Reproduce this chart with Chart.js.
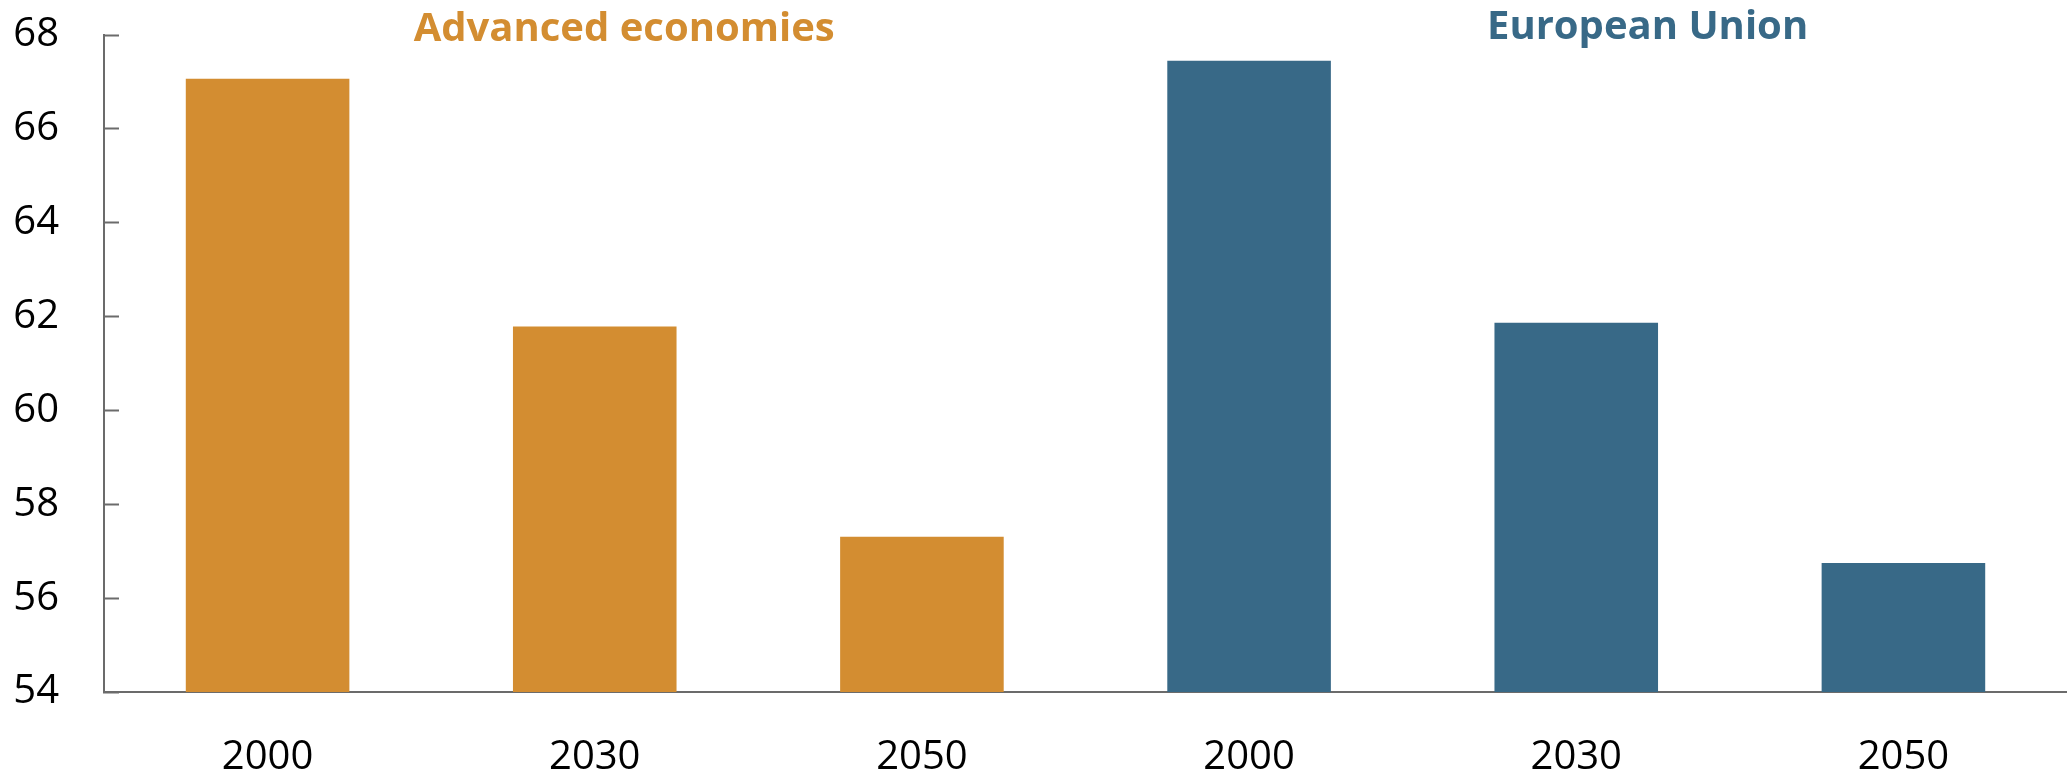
<!DOCTYPE html>
<html>
<head>
<meta charset="utf-8">
<script src="https://cdn.jsdelivr.net/npm/chart.js@4"></script>
<style>
  html, body { margin: 0; padding: 0; background: #ffffff; }
  #wrap { width: 2067px; height: 775px; position: relative; }
</style>
</head>
<body>
<div id="wrap"><canvas id="c"></canvas></div>
<script>
const categories = ["2000", "2030", "2050", "2000", "2030", "2050"];
const advancedEconomies = [67.07, 61.79, 57.31, null, null, null];
const europeanUnion = [null, null, null, 67.45, 61.87, 56.75];
const seriesNames = ["Advanced economies", "European Union"];
const yTicks = [54, 56, 58, 60, 62, 64, 66, 68];

const ORANGE = "#D38D31";
const BLUE = "#386987";
const AXIS = "#6b6b6b";

const groupTitles = {
  id: "groupTitles",
  afterDraw(chart) {
    const ctx = chart.ctx;
    const x = chart.scales.x;
    const cw = (x.right - x.left) / categories.length;
    ctx.save();
    ctx.font = "bold 40px 'Open Sans'";
    ctx.textAlign = "center";
    ctx.textBaseline = "alphabetic";
    ctx.fillStyle = ORANGE;
    ctx.fillText(seriesNames[0], x.getPixelForValue(1) + cw * 0.09, 41);
    ctx.fillStyle = BLUE;
    ctx.fillText(seriesNames[1], x.getPixelForValue(4) + cw * 0.218, 39);
    ctx.restore();
  }
};

new Chart(document.getElementById("c"), {
  type: "bar",
  data: {
    labels: categories,
    datasets: [
      { label: seriesNames[0], data: advancedEconomies, backgroundColor: ORANGE },
      { label: seriesNames[1], data: europeanUnion, backgroundColor: BLUE }
    ]
  },
  options: {
    responsive: true,
    maintainAspectRatio: false,
    animation: false,
    events: [],
    layout: { padding: { top: 35, right: 0, left: 0, bottom: 0 } },
    datasets: { bar: { grouped: false, categoryPercentage: 1.0, barPercentage: 0.5, skipNull: true } },
    plugins: { legend: { display: false }, tooltip: { enabled: false }, title: { display: false } },
    scales: {
      x: {
        grid: { display: false, drawTicks: false },
        border: { display: true, color: AXIS, width: 2 },
        ticks: { color: "#000000", font: { family: "'Open Sans'", size: 40 }, padding: 42, maxRotation: 0 },
        afterFit(scale) { scale.height = 83; scale.paddingLeft = 0; scale.paddingRight = 0; }
      },
      y: {
        min: 54,
        max: 68,
        afterBuildTicks(scale) { scale.ticks = yTicks.map(v => ({ value: v })); },
        grid: { display: true, drawOnChartArea: false, drawTicks: true, tickLength: -15, tickColor: AXIS, tickWidth: 2 },
        border: { display: true, color: AXIS, width: 2 },
        ticks: { color: "#000000", font: { family: "'Open Sans'", size: 40 }, padding: 60 },
        afterFit(scale) { scale.width = 104; scale.paddingTop = 0; scale.paddingBottom = 0; }
      }
    }
  },
  plugins: [groupTitles]
});
</script>
</body>
</html>
